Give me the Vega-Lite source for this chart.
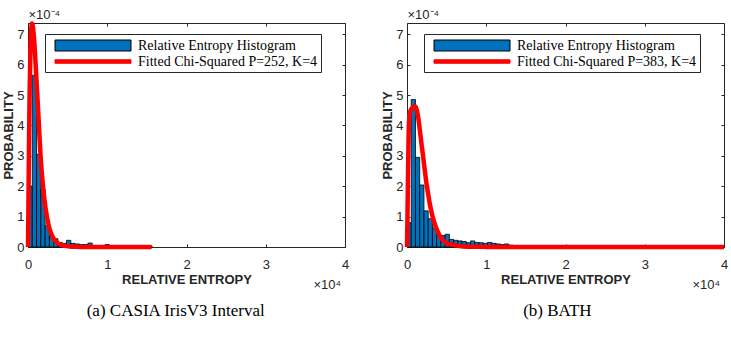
{
  "$schema": "https://vega.github.io/schema/vega-lite/v6.json",
  "background": "white",
  "padding": {"left": 2, "top": 7, "right": 0, "bottom": 0},
  "config": {
    "view": {"stroke": "#262626", "strokeWidth": 1},
    "axis": {"grid": false, "domain": false, "tickColor": "#262626", "tickWidth": 1, "labelFont": "Liberation Sans", "labelFontSize": 13, "labelColor": "#262626", "titleFont": "Liberation Sans", "titleFontSize": 13, "titleColor": "#262626"},
    "legend": {"orient": "none", "legendX": 17, "legendY": 11, "strokeColor": "#262626", "fillColor": "white", "padding": 3, "symbolOffset": 0, "labelOffset": 73, "labelFont": "Liberation Serif", "labelFontSize": 14, "labelColor": "black", "rowPadding": 0, "symbolSize": 256, "symbolStrokeWidth": 1, "labelLimit": 400, "title": null}
  },
  "datasets": {
    "barsA": [
      {"x0": 0, "x1": 540, "p": 2.0, "series": "Relative Entropy Histogram"},
      {"x0": 540, "x1": 1080, "p": 5.65, "series": "Relative Entropy Histogram"},
      {"x0": 1080, "x1": 1620, "p": 3.05, "series": "Relative Entropy Histogram"},
      {"x0": 1620, "x1": 2160, "p": 1.9, "series": "Relative Entropy Histogram"},
      {"x0": 2160, "x1": 2700, "p": 0.7, "series": "Relative Entropy Histogram"},
      {"x0": 2700, "x1": 3240, "p": 0.36, "series": "Relative Entropy Histogram"},
      {"x0": 3240, "x1": 3780, "p": 0.27, "series": "Relative Entropy Histogram"},
      {"x0": 3780, "x1": 4320, "p": 0.15, "series": "Relative Entropy Histogram"},
      {"x0": 4320, "x1": 4860, "p": 0.12, "series": "Relative Entropy Histogram"},
      {"x0": 4860, "x1": 5400, "p": 0.22, "series": "Relative Entropy Histogram"},
      {"x0": 5400, "x1": 5940, "p": 0.12, "series": "Relative Entropy Histogram"},
      {"x0": 5940, "x1": 6480, "p": 0.1, "series": "Relative Entropy Histogram"},
      {"x0": 6480, "x1": 7020, "p": 0.08, "series": "Relative Entropy Histogram"},
      {"x0": 7020, "x1": 7560, "p": 0.08, "series": "Relative Entropy Histogram"},
      {"x0": 7560, "x1": 8100, "p": 0.13, "series": "Relative Entropy Histogram"},
      {"x0": 8100, "x1": 8640, "p": 0.05, "series": "Relative Entropy Histogram"},
      {"x0": 8640, "x1": 9180, "p": 0.03, "series": "Relative Entropy Histogram"},
      {"x0": 9180, "x1": 9720, "p": 0.02, "series": "Relative Entropy Histogram"},
      {"x0": 9720, "x1": 10260, "p": 0.08, "series": "Relative Entropy Histogram"},
      {"x0": 10260, "x1": 10800, "p": 0.02, "series": "Relative Entropy Histogram"},
      {"x0": 10800, "x1": 11340, "p": 0.01, "series": "Relative Entropy Histogram"},
      {"x0": 11340, "x1": 11880, "p": 0.01, "series": "Relative Entropy Histogram"},
      {"x0": 11880, "x1": 12420, "p": 0.01, "series": "Relative Entropy Histogram"},
      {"x0": 12420, "x1": 12960, "p": 0.005, "series": "Relative Entropy Histogram"},
      {"x0": 12960, "x1": 13500, "p": 0.005, "series": "Relative Entropy Histogram"},
      {"x0": 13500, "x1": 14040, "p": 0.005, "series": "Relative Entropy Histogram"},
      {"x0": 14040, "x1": 14580, "p": 0.005, "series": "Relative Entropy Histogram"},
      {"x0": 14580, "x1": 15120, "p": 0.005, "series": "Relative Entropy Histogram"},
      {"x0": 15120, "x1": 15660, "p": 0.03, "series": "Relative Entropy Histogram"}
    ],
    "curveA": [
      {"x": 0, "p": 0, "series": "Fitted Chi-Squared P=252, K=4"},
      {"x": 60, "p": 1.5, "series": "Fitted Chi-Squared P=252, K=4"},
      {"x": 120, "p": 3.2, "series": "Fitted Chi-Squared P=252, K=4"},
      {"x": 200, "p": 5.0, "series": "Fitted Chi-Squared P=252, K=4"},
      {"x": 300, "p": 6.4, "series": "Fitted Chi-Squared P=252, K=4"},
      {"x": 400, "p": 7.1, "series": "Fitted Chi-Squared P=252, K=4"},
      {"x": 500, "p": 7.35, "series": "Fitted Chi-Squared P=252, K=4"},
      {"x": 620, "p": 7.25, "series": "Fitted Chi-Squared P=252, K=4"},
      {"x": 750, "p": 6.9, "series": "Fitted Chi-Squared P=252, K=4"},
      {"x": 900, "p": 6.3, "series": "Fitted Chi-Squared P=252, K=4"},
      {"x": 1130, "p": 5.2, "series": "Fitted Chi-Squared P=252, K=4"},
      {"x": 1350, "p": 4.15, "series": "Fitted Chi-Squared P=252, K=4"},
      {"x": 1560, "p": 3.1, "series": "Fitted Chi-Squared P=252, K=4"},
      {"x": 1890, "p": 2.0, "series": "Fitted Chi-Squared P=252, K=4"},
      {"x": 2230, "p": 1.25, "series": "Fitted Chi-Squared P=252, K=4"},
      {"x": 2600, "p": 0.72, "series": "Fitted Chi-Squared P=252, K=4"},
      {"x": 2900, "p": 0.45, "series": "Fitted Chi-Squared P=252, K=4"},
      {"x": 3230, "p": 0.28, "series": "Fitted Chi-Squared P=252, K=4"},
      {"x": 3600, "p": 0.16, "series": "Fitted Chi-Squared P=252, K=4"},
      {"x": 4070, "p": 0.08, "series": "Fitted Chi-Squared P=252, K=4"},
      {"x": 4600, "p": 0.04, "series": "Fitted Chi-Squared P=252, K=4"},
      {"x": 5200, "p": 0.02, "series": "Fitted Chi-Squared P=252, K=4"},
      {"x": 6000, "p": 0.01, "series": "Fitted Chi-Squared P=252, K=4"},
      {"x": 7500, "p": 0.003, "series": "Fitted Chi-Squared P=252, K=4"},
      {"x": 10000, "p": 0.001, "series": "Fitted Chi-Squared P=252, K=4"},
      {"x": 15600, "p": 0, "series": "Fitted Chi-Squared P=252, K=4"}
    ],
    "barsB": [
      {"x0": 0, "x1": 535, "p": 0.8, "series": "Relative Entropy Histogram"},
      {"x0": 535, "x1": 1070, "p": 4.85, "series": "Relative Entropy Histogram"},
      {"x0": 1070, "x1": 1605, "p": 2.95, "series": "Relative Entropy Histogram"},
      {"x0": 1605, "x1": 2140, "p": 2.04, "series": "Relative Entropy Histogram"},
      {"x0": 2140, "x1": 2675, "p": 1.19, "series": "Relative Entropy Histogram"},
      {"x0": 2675, "x1": 3210, "p": 0.93, "series": "Relative Entropy Histogram"},
      {"x0": 3210, "x1": 3745, "p": 0.63, "series": "Relative Entropy Histogram"},
      {"x0": 3745, "x1": 4280, "p": 0.38, "series": "Relative Entropy Histogram"},
      {"x0": 4280, "x1": 4815, "p": 0.38, "series": "Relative Entropy Histogram"},
      {"x0": 4815, "x1": 5350, "p": 0.42, "series": "Relative Entropy Histogram"},
      {"x0": 5350, "x1": 5885, "p": 0.25, "series": "Relative Entropy Histogram"},
      {"x0": 5885, "x1": 6420, "p": 0.22, "series": "Relative Entropy Histogram"},
      {"x0": 6420, "x1": 6955, "p": 0.2, "series": "Relative Entropy Histogram"},
      {"x0": 6955, "x1": 7490, "p": 0.18, "series": "Relative Entropy Histogram"},
      {"x0": 7490, "x1": 8025, "p": 0.14, "series": "Relative Entropy Histogram"},
      {"x0": 8025, "x1": 8560, "p": 0.2, "series": "Relative Entropy Histogram"},
      {"x0": 8560, "x1": 9095, "p": 0.15, "series": "Relative Entropy Histogram"},
      {"x0": 9095, "x1": 9630, "p": 0.14, "series": "Relative Entropy Histogram"},
      {"x0": 9630, "x1": 10165, "p": 0.12, "series": "Relative Entropy Histogram"},
      {"x0": 10165, "x1": 10700, "p": 0.15, "series": "Relative Entropy Histogram"},
      {"x0": 10700, "x1": 11235, "p": 0.12, "series": "Relative Entropy Histogram"},
      {"x0": 11235, "x1": 11770, "p": 0.1, "series": "Relative Entropy Histogram"},
      {"x0": 11770, "x1": 12305, "p": 0.08, "series": "Relative Entropy Histogram"},
      {"x0": 12305, "x1": 12840, "p": 0.1, "series": "Relative Entropy Histogram"},
      {"x0": 12840, "x1": 13375, "p": 0.06, "series": "Relative Entropy Histogram"},
      {"x0": 13375, "x1": 13910, "p": 0.04, "series": "Relative Entropy Histogram"},
      {"x0": 13910, "x1": 14445, "p": 0.03, "series": "Relative Entropy Histogram"},
      {"x0": 14445, "x1": 14980, "p": 0.02, "series": "Relative Entropy Histogram"},
      {"x0": 14980, "x1": 15515, "p": 0.01, "series": "Relative Entropy Histogram"},
      {"x0": 15515, "x1": 16050, "p": 0.01, "series": "Relative Entropy Histogram"},
      {"x0": 16050, "x1": 16585, "p": 0.01, "series": "Relative Entropy Histogram"},
      {"x0": 16585, "x1": 17120, "p": 0.005, "series": "Relative Entropy Histogram"},
      {"x0": 17120, "x1": 17655, "p": 0.005, "series": "Relative Entropy Histogram"},
      {"x0": 17655, "x1": 18190, "p": 0.005, "series": "Relative Entropy Histogram"},
      {"x0": 18190, "x1": 18725, "p": 0.005, "series": "Relative Entropy Histogram"},
      {"x0": 18725, "x1": 19260, "p": 0.005, "series": "Relative Entropy Histogram"},
      {"x0": 19260, "x1": 19795, "p": 0.005, "series": "Relative Entropy Histogram"},
      {"x0": 19795, "x1": 20330, "p": 0.03, "series": "Relative Entropy Histogram"},
      {"x0": 25680, "x1": 26215, "p": 0.01, "series": "Relative Entropy Histogram"},
      {"x0": 29960, "x1": 30495, "p": 0.03, "series": "Relative Entropy Histogram"}
    ],
    "curveB": [
      {"x": 0, "p": 0, "series": "Fitted Chi-Squared P=383, K=4"},
      {"x": 60, "p": 1.0, "series": "Fitted Chi-Squared P=383, K=4"},
      {"x": 130, "p": 2.5, "series": "Fitted Chi-Squared P=383, K=4"},
      {"x": 200, "p": 3.6, "series": "Fitted Chi-Squared P=383, K=4"},
      {"x": 300, "p": 4.3, "series": "Fitted Chi-Squared P=383, K=4"},
      {"x": 450, "p": 4.5, "series": "Fitted Chi-Squared P=383, K=4"},
      {"x": 750, "p": 4.6, "series": "Fitted Chi-Squared P=383, K=4"},
      {"x": 1000, "p": 4.63, "series": "Fitted Chi-Squared P=383, K=4"},
      {"x": 1250, "p": 4.5, "series": "Fitted Chi-Squared P=383, K=4"},
      {"x": 1450, "p": 4.2, "series": "Fitted Chi-Squared P=383, K=4"},
      {"x": 1640, "p": 3.8, "series": "Fitted Chi-Squared P=383, K=4"},
      {"x": 1850, "p": 3.35, "series": "Fitted Chi-Squared P=383, K=4"},
      {"x": 2060, "p": 2.93, "series": "Fitted Chi-Squared P=383, K=4"},
      {"x": 2270, "p": 2.47, "series": "Fitted Chi-Squared P=383, K=4"},
      {"x": 2480, "p": 2.05, "series": "Fitted Chi-Squared P=383, K=4"},
      {"x": 2700, "p": 1.7, "series": "Fitted Chi-Squared P=383, K=4"},
      {"x": 2900, "p": 1.39, "series": "Fitted Chi-Squared P=383, K=4"},
      {"x": 3200, "p": 1.03, "series": "Fitted Chi-Squared P=383, K=4"},
      {"x": 3540, "p": 0.73, "series": "Fitted Chi-Squared P=383, K=4"},
      {"x": 3850, "p": 0.52, "series": "Fitted Chi-Squared P=383, K=4"},
      {"x": 4170, "p": 0.35, "series": "Fitted Chi-Squared P=383, K=4"},
      {"x": 4600, "p": 0.21, "series": "Fitted Chi-Squared P=383, K=4"},
      {"x": 5000, "p": 0.13, "series": "Fitted Chi-Squared P=383, K=4"},
      {"x": 5600, "p": 0.08, "series": "Fitted Chi-Squared P=383, K=4"},
      {"x": 6270, "p": 0.05, "series": "Fitted Chi-Squared P=383, K=4"},
      {"x": 7100, "p": 0.02, "series": "Fitted Chi-Squared P=383, K=4"},
      {"x": 8500, "p": 0.008, "series": "Fitted Chi-Squared P=383, K=4"},
      {"x": 10000, "p": 0.004, "series": "Fitted Chi-Squared P=383, K=4"},
      {"x": 12000, "p": 0.002, "series": "Fitted Chi-Squared P=383, K=4"},
      {"x": 15000, "p": 0.001, "series": "Fitted Chi-Squared P=383, K=4"},
      {"x": 40000, "p": 0, "series": "Fitted Chi-Squared P=383, K=4"}
    ]
  },
  "resolve": {"scale": {"fill": "independent", "stroke": "independent"}, "legend": {"fill": "independent", "stroke": "independent"}},
  "spacing": 31,
  "hconcat": [
    {
      "width": 317, "height": 224,
      "title": {"text": "(a) CASIA IrisV3 Interval", "orient": "bottom", "anchor": "middle", "frame": "bounds", "font": "Liberation Serif", "fontSize": 17, "fontWeight": "normal", "color": "black", "offset": 12},
      "layer": [
        {
          "data": {"name": "barsA"},
          "mark": {"type": "bar", "strokeWidth": 0.8},
          "encoding": {
            "x": {"field": "x0", "type": "quantitative", "scale": {"domain": [0, 40000], "nice": false, "zero": false},
                  "axis": {"orient": "bottom", "values": [0, 10000, 20000, 30000, 40000], "labelExpr": "datum.value / 10000", "tickSize": -3, "labelPadding": 14, "labelFlush": false, "title": "RELATIVE ENTROPY", "titleFontWeight": "bold", "titlePadding": 2}},
            "x2": {"field": "x1"},
            "y": {"field": "p", "type": "quantitative", "scale": {"domain": [0, 7.37], "nice": false},
                  "axis": {"orient": "left", "values": [0, 1, 2, 3, 4, 5, 6, 7], "tickSize": -3, "labelPadding": 7, "title": "PROBABILITY", "titleFontWeight": "bold", "titlePadding": 1}},
            "y2": {"datum": 0},
            "fill": {"field": "series", "type": "nominal",
                     "scale": {"domain": ["Relative Entropy Histogram", "Fitted Chi-Squared P=252, K=4"], "range": ["#0072BD", "#FF0000"]},
                     "legend": {
                       "symbolType": {"expr": "datum.value === 'Relative Entropy Histogram' ? 'M-0.1875,-0.6875H9.3125V0.6875H-0.1875Z' : 'M-0.1875,-0.21875H9.3125V0.21875H-0.1875Z'"}
                     }},
            "stroke": {"field": "series", "type": "nominal",
                       "scale": {"domain": ["Relative Entropy Histogram", "Fitted Chi-Squared P=252, K=4"], "range": ["#000000", "#FF0000"]}}
          }
        },
        {
          "data": {"name": "curveA"},
          "mark": {"type": "line", "strokeWidth": 4.5, "interpolate": "monotone"},
          "encoding": {
            "x": {"field": "x", "type": "quantitative", "scale": {"domain": [0, 40000], "nice": false, "zero": false},
                  "axis": {"orient": "top", "values": [0, 10000, 20000, 30000, 40000], "labels": false, "tickSize": -3, "title": "×10⁻⁴", "titleFontWeight": "normal", "titleAnchor": "start", "titleAlign": "left", "titleBaseline": "middle", "titleX": 0, "titleY": -9}},
            "y": {"field": "p", "type": "quantitative", "scale": {"domain": [0, 7.37], "nice": false},
                  "axis": {"orient": "right", "values": [0, 1, 2, 3, 4, 5, 6, 7], "labels": false, "tickSize": -3, "title": "×10⁴", "titleFontWeight": "normal", "titleAngle": 0, "titleAlign": "left", "titleBaseline": "middle", "titleX": -32, "titleY": 261}},
            "stroke": {"field": "series", "type": "nominal"}
          }
        }
      ]
    },
    {
      "width": 317, "height": 224,
      "title": {"text": "(b) BATH", "orient": "bottom", "anchor": "middle", "frame": "bounds", "font": "Liberation Serif", "fontSize": 17, "fontWeight": "normal", "color": "black", "offset": 12},
      "layer": [
        {
          "data": {"name": "barsB"},
          "mark": {"type": "bar", "strokeWidth": 0.8},
          "encoding": {
            "x": {"field": "x0", "type": "quantitative", "scale": {"domain": [0, 40000], "nice": false, "zero": false},
                  "axis": {"orient": "bottom", "values": [0, 10000, 20000, 30000, 40000], "labelExpr": "datum.value / 10000", "tickSize": -3, "labelPadding": 14, "labelFlush": false, "title": "RELATIVE ENTROPY", "titleFontWeight": "bold", "titlePadding": 2}},
            "x2": {"field": "x1"},
            "y": {"field": "p", "type": "quantitative", "scale": {"domain": [0, 7.37], "nice": false},
                  "axis": {"orient": "left", "values": [0, 1, 2, 3, 4, 5, 6, 7], "tickSize": -3, "labelPadding": 7, "title": "PROBABILITY", "titleFontWeight": "bold", "titlePadding": 1}},
            "y2": {"datum": 0},
            "fill": {"field": "series", "type": "nominal",
                     "scale": {"domain": ["Relative Entropy Histogram", "Fitted Chi-Squared P=383, K=4"], "range": ["#0072BD", "#FF0000"]},
                     "legend": {
                       "symbolType": {"expr": "datum.value === 'Relative Entropy Histogram' ? 'M-0.1875,-0.6875H9.3125V0.6875H-0.1875Z' : 'M-0.1875,-0.21875H9.3125V0.21875H-0.1875Z'"}
                     }},
            "stroke": {"field": "series", "type": "nominal",
                       "scale": {"domain": ["Relative Entropy Histogram", "Fitted Chi-Squared P=383, K=4"], "range": ["#000000", "#FF0000"]}}
          }
        },
        {
          "data": {"name": "curveB"},
          "mark": {"type": "line", "strokeWidth": 4.5, "interpolate": "monotone"},
          "encoding": {
            "x": {"field": "x", "type": "quantitative", "scale": {"domain": [0, 40000], "nice": false, "zero": false},
                  "axis": {"orient": "top", "values": [0, 10000, 20000, 30000, 40000], "labels": false, "tickSize": -3, "title": "×10⁻⁴", "titleFontWeight": "normal", "titleAnchor": "start", "titleAlign": "left", "titleBaseline": "middle", "titleX": 0, "titleY": -9}},
            "y": {"field": "p", "type": "quantitative", "scale": {"domain": [0, 7.37], "nice": false},
                  "axis": {"orient": "right", "values": [0, 1, 2, 3, 4, 5, 6, 7], "labels": false, "tickSize": -3, "title": "×10⁴", "titleFontWeight": "normal", "titleAngle": 0, "titleAlign": "left", "titleBaseline": "middle", "titleX": -32, "titleY": 261}},
            "stroke": {"field": "series", "type": "nominal"}
          }
        }
      ]
    }
  ]
}
